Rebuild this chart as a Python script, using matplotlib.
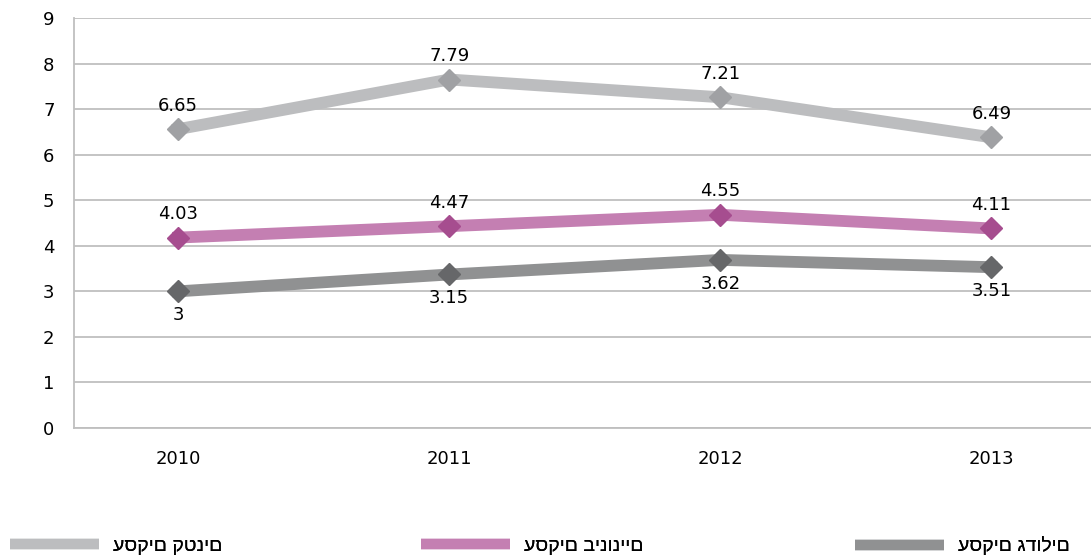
import matplotlib
matplotlib.use('Agg')
import matplotlib.pyplot as plt
from matplotlib.lines import Line2D

plt.rcParams['font.family'] = ['DejaVu Sans']

years = ['2010', '2011', '2012', '2013']

# label values shown on the chart
small_labels = ['6.65', '7.79', '7.21', '6.49']
medium_labels = ['4.03', '4.47', '4.55', '4.11']
large_labels = ['3', '3.15', '3.62', '3.51']

# positions as drawn in the picture
small_values = [6.56, 7.65, 7.26, 6.38]
medium_values = [4.18, 4.43, 4.68, 4.38]
large_values = [3.0, 3.37, 3.69, 3.53]

names = ['עסקים גדולים', 'עסקים בינוניים', 'עסקים קטנים']

fig = plt.figure(figsize=(10.91, 5.58), dpi=100)
ax = fig.add_axes([74/1091, 130/558, 1 - 74/1091, 410/558])

x = list(range(len(years)))

series = [
    (small_values, small_labels, '#bcbdbf', '#a0a1a4', 1),
    (medium_values, medium_labels, '#c47fb2', '#a64d8f', 1),
    (large_values, large_labels, '#909192', '#666769', -1),
]

for vals, labs, col, mcol, side in series:
    ax.plot(x, vals, color=col, lw=8.5, solid_joinstyle='miter', zorder=3)
    ax.plot(x, vals, ls='none', marker='D', ms=11.5, color=mcol, zorder=4)
    for xi, v, t in zip(x, vals, labs):
        ax.annotate(t, (xi, v), xytext=(0, 17 * side), textcoords='offset points',
                    ha='center', va='center', fontsize=13, color='black')

ax.set_xlim(-0.384, 3.367)
ax.set_ylim(0, 9)
ax.set_yticks(range(10))
ax.set_xticks(x)
ax.set_xticklabels(years)
ax.tick_params(length=0, labelsize=13, colors='black')
ax.tick_params(axis='y', pad=14)
ax.tick_params(axis='x', pad=16)
ax.grid(axis='y', color='#bfbfbf', lw=1.3)
ax.set_axisbelow(True)
for s in ['top', 'right']:
    ax.spines[s].set_visible(False)
ax.spines['left'].set_color('#bfbfbf')
ax.spines['bottom'].set_color('#bfbfbf')
ax.spines['left'].set_linewidth(1.3)
ax.spines['bottom'].set_linewidth(1.3)

# legend entries, right to left
leg_x = [855/1091, 421/1091, 10/1091]
leg_cols = ['#909192', '#c47fb2', '#bcbdbf']
for name, lx, c in zip(names, leg_x, leg_cols):
    h = Line2D([], [], color=c, lw=7.5, solid_capstyle='butt')
    leg = fig.legend([h], [name], loc='center left', bbox_to_anchor=(lx, 12/558),
                     frameon=False, handlelength=4.6, handletextpad=0.7,
                     borderpad=0, borderaxespad=0,
                     prop={'family': ['Liberation Sans', 'DejaVu Sans'], 'size': 14})
    fig.add_artist(leg)

fig.savefig('out.png', dpi=100)
